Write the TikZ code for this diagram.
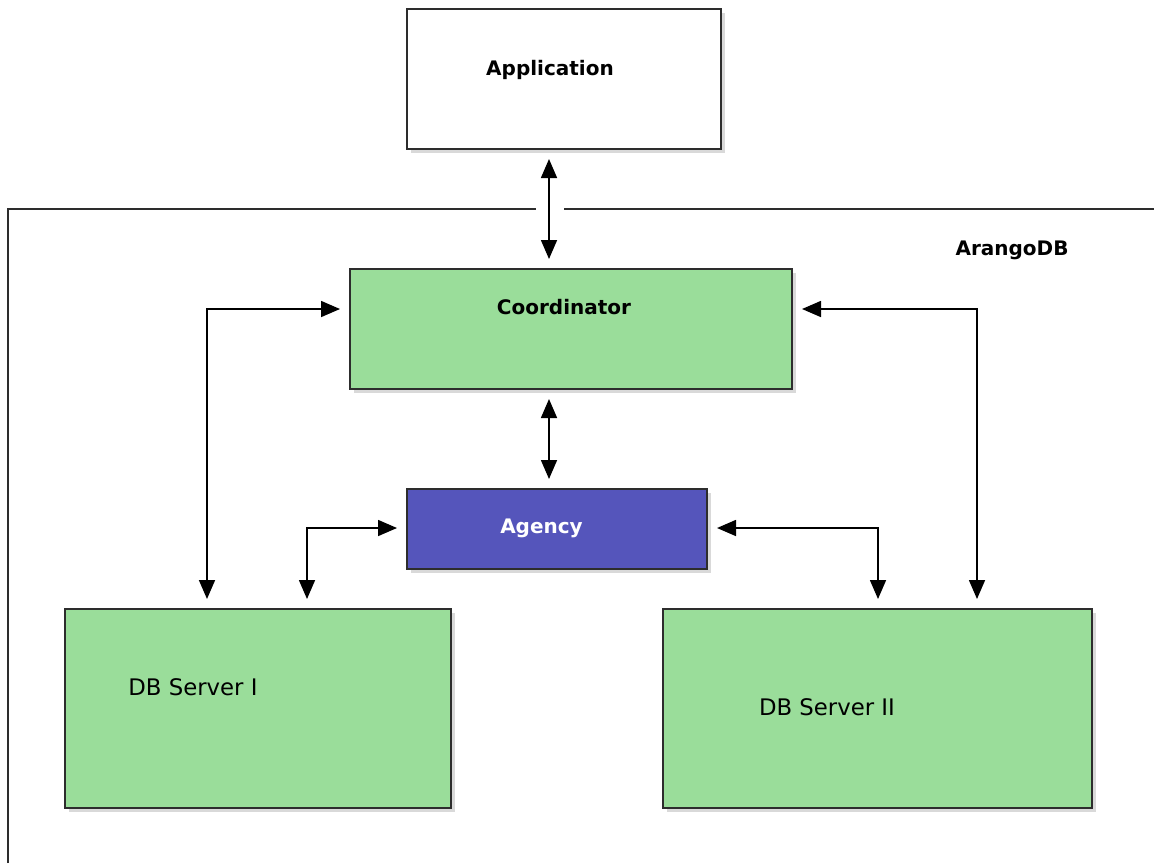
\documentclass[tikz,border=0pt]{standalone}
\usepackage{fontspec}
\setmainfont{DejaVu Sans}
\usetikzlibrary{arrows.meta,fit,shadows}
\definecolor{boxgreen}{RGB}{154,221,154}
\definecolor{agencyblue}{RGB}{85,85,187}
\definecolor{edge}{RGB}{45,45,45}
\tikzset{
    box/.style={draw=edge, line width=1pt, inner sep=0pt,
        drop shadow={opacity=0.3, shadow xshift=2pt, shadow yshift=-2pt}},
    greenbox/.style={box, fill=boxgreen},
    bluebox/.style={box, fill=agencyblue},
    lbl/.style={font=\bfseries\fontsize{10}{12}\selectfont, inner sep=0pt},
    dblbl/.style={font=\fontsize{11.4}{13}\selectfont, inner sep=0pt},
    link/.style={line width=0.8pt, draw=black,
        {Triangle[length=9.5pt,width=8pt]}-{Triangle[length=9.5pt,width=8pt]},
        shorten <=4.5pt, shorten >=4.5pt}
}
\begin{document}
\begin{tikzpicture}
        [x=0.5pt, y=-0.5pt]
        \useasboundingbox (0,0) rectangle (1154,863);
        % boxes
        \node[box, fill=white, fit={(407,9) (721,149)}] (app) {};
        \node[greenbox, fit={(350,269) (792,389)}] (coord) {};
        \node[bluebox, fit={(407,489) (707,569)}] (agency) {};
        \node[greenbox, fit={(65,609) (451,808)}] (dbone) {};
        \node[greenbox, fit={(663,609) (1092,808)}] (dbtwo) {};
        % labels
        \node[lbl] (applbl) at (550,70) {Application};
        \node[lbl] (coordlbl) at (564,307.5) {Coordinator};
        \node[lbl, text=white] (agencylbl) at (541.5,528.5) {Agency};
        \node[lbl] (arangolbl) at (1012,250) {ArangoDB};
        \node[dblbl] (dbonelbl) at (193,687.5) {DB Server I};
        \node[dblbl] (dbtwolbl) at (827,707) {DB Server II};
        % cluster frame
        \coordinate (gap) at (549,209);
        \draw[line width=0.8pt, edge]
            (8,863) -- (8,209) -- ([xshift=-6.5pt]gap)
            ([xshift=7.5pt]gap) -- (1154,209);
        % bends
        \coordinate (lout) at (207,309);
        \coordinate (rout) at (977,309);
        \coordinate (lin) at (307,528);
        \coordinate (rin) at (878,528);
        % connectors
        \draw[link] (app.south -| gap) -- (coord.north -| gap);
        \draw[link] (coord.south -| gap) -- (agency.north -| gap);
        \draw[link] (coord.west |- lout) -- (lout) -- (lout |- dbone.north);
        \draw[link] (coord.east |- rout) -- (rout) -- (rout |- dbtwo.north);
        \draw[link] (agency.west |- lin) -- (lin) -- (lin |- dbone.north);
        \draw[link] (agency.east |- rin) -- (rin) -- (rin |- dbtwo.north);
\end{tikzpicture}
\end{document}
